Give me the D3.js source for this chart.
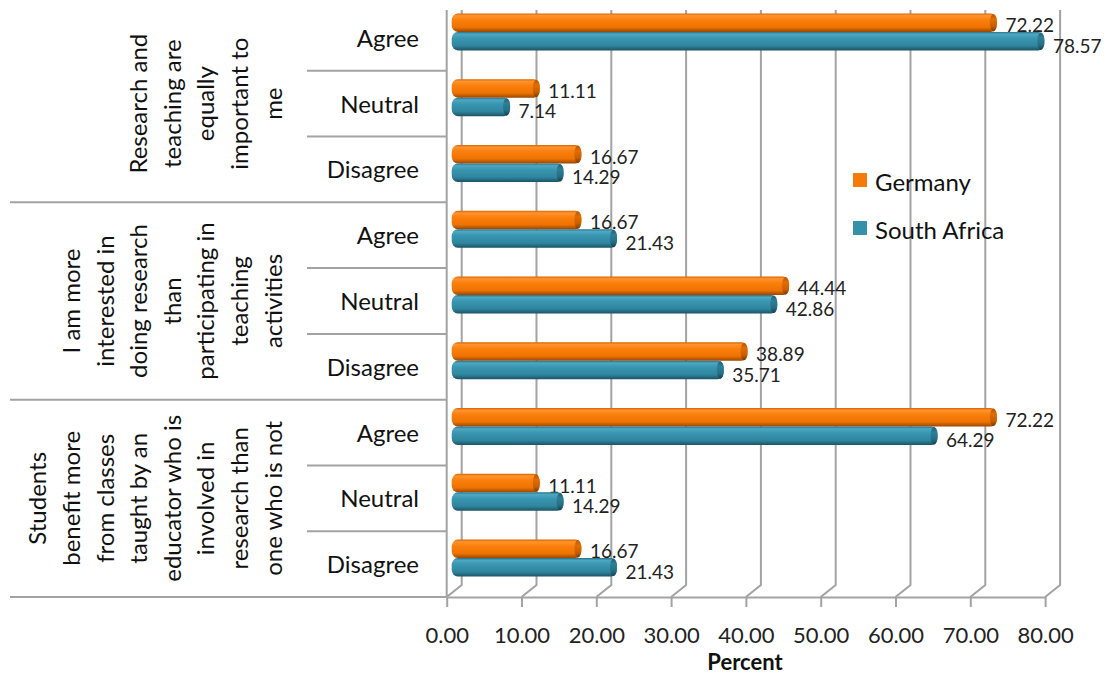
<!DOCTYPE html>
<html>
<head>
<meta charset="utf-8">
<script src="https://cdn.jsdelivr.net/npm/d3@7/dist/d3.min.js"></script>
<style>
  html, body { margin: 0; padding: 0; background: #fff; }
  svg { display: block; font-family: Lato, "Open Sans", sans-serif; }
</style>
</head>
<body>
<svg id="chart" width="1111" height="675"></svg>
<script>
// Survey statements (wrapped as they are printed on the chart)
const statementLines = [
  ["Research and", "teaching are", "equally", "important to", "me"],
  ["I am more", "interested in", "doing research", "than", "participating in", "teaching", "activities"],
  ["Students", "benefit more", "from classes", "taught by an", "educator who is", "involved in", "research than", "one who is not"]
];
const responses = ["Agree", "Neutral", "Disagree"];
const seriesNames = ["Germany", "South Africa"];
// Percent of respondents, one value per statement x response row
const germany     = [72.22, 11.11, 16.67, 16.67, 44.44, 38.89, 72.22, 11.11, 16.67];
const southAfrica = [78.57,  7.14, 14.29, 21.43, 42.86, 35.71, 64.29, 14.29, 21.43];
const tickValues = [0, 10, 20, 30, 40, 50, 60, 70, 80];

const svg = d3.select("#chart");
const colors = { "Germany": "#F57A08", "South Africa": "#3590AA" };

// Plot geometry: front floor edge and the 3-D depth offset of the back wall
const floorY = 597, topY = 5;
const depthX = 15, depthY = -12;
const x = d3.scaleLinear().domain([0, 80]).range([446.7, 1045.1]);

const rows = [];
statementLines.forEach((s, gi) => responses.forEach((r, ri) => rows.push({ g: gi, r: ri, key: gi + "-" + ri })));
const y = d3.scaleBand().domain(rows.map(d => d.key)).range([topY, floorY]);

// ---- gradients for the cylinder-like bars
const defs = svg.append("defs");
function barGradient(id, stops) {
  const g = defs.append("linearGradient").attr("id", id).attr("x1", 0).attr("y1", 0).attr("x2", 0).attr("y2", 1);
  stops.forEach(([o, c]) => g.append("stop").attr("offset", o).attr("stop-color", c));
}
barGradient("gradDE", [[0, "#D86300"], [0.12, "#FF9430"], [0.35, "#FB7F0C"], [0.75, "#EF7300"], [1, "#9A4700"]]);
barGradient("gradZA", [[0, "#2A7189"], [0.12, "#4DA8C2"], [0.35, "#3996B0"], [0.75, "#2F859E"], [1, "#1B5366"]]);
barGradient("capDE", [[0, "#B85300"], [0.3, "#E06E00"], [0.7, "#C85F00"], [1, "#7E3A00"]]);
barGradient("capZA", [[0, "#215F73"], [0.3, "#2E7F97"], [0.7, "#256F85"], [1, "#163F4D"]]);

// ---- back wall gridlines with floor diagonals
const grid = svg.append("g").attr("stroke", "#A3A3A3").attr("stroke-width", 2).attr("fill", "none");
grid.selectAll("path").data(tickValues).join("path")
  .attr("d", v => `M${x(v) + depthX},10 L${x(v) + depthX},${floorY + depthY} L${x(v)},${floorY}`);

// ---- category separators in the label area
const sep = svg.append("g").attr("stroke", "#A3A3A3").attr("stroke-width", 2);
rows.forEach((d, i) => {
  if (i === 0) return;
  const yy = y(d.key);
  const isGroup = d.r === 0;
  sep.append("line").attr("x1", isGroup ? 10 : 307).attr("x2", x(0)).attr("y1", yy).attr("y2", yy);
});
sep.append("line").attr("x1", 10).attr("x2", x(0)).attr("y1", floorY).attr("y2", floorY);
sep.append("line").attr("x1", x(0)).attr("x2", x(0)).attr("y1", 10).attr("y2", floorY);

// ---- value axis along the front floor edge
const axis = d3.axisBottom(x).tickValues(tickValues).tickFormat(d3.format(".2f")).tickSize(10).tickSizeOuter(0);
const ax = svg.append("g").attr("transform", `translate(0,${floorY})`).call(axis);
ax.select(".domain").attr("stroke", "#A3A3A3").attr("stroke-width", 2);
ax.selectAll(".tick line").attr("stroke", "#A3A3A3").attr("stroke-width", 2);
ax.selectAll(".tick text").attr("y", 46).attr("dy", 0)
  .attr("font-size", 22).attr("font-family", "Lato, sans-serif").attr("fill", "#222");

svg.append("text").attr("x", 745).attr("y", 670).attr("text-anchor", "middle")
  .attr("font-size", 22).attr("font-weight", "bold").attr("fill", "#111").text("Percent");

// ---- bars (sit half way into the depth)
const bx = depthX / 2, by = depthY / 2;
const barH = 18.5;
const seriesData = [
  { name: "Germany", values: germany, grad: "gradDE", cap: "capDE", off: -barH },
  { name: "South Africa", values: southAfrica, grad: "gradZA", cap: "capZA", off: 0 }
];
const bars = svg.append("g");
seriesData.forEach(s => {
  rows.forEach((d, i) => {
    const v = s.values[i];
    const cy = y(d.key) + y.bandwidth() / 2 + by;
    const y0 = cy + s.off;
    const x0 = x(0) + bx, x1 = x(v) + bx;
    const g = bars.append("g");
    g.append("rect").attr("x", x0 - 2.5).attr("y", y0).attr("width", x1 - x0 + 5).attr("height", barH)
      .attr("rx", 6).attr("ry", 7).attr("fill", `url(#${s.grad})`);
    g.append("ellipse").attr("cx", x1 - 1).attr("cy", y0 + barH / 2).attr("rx", 3.5).attr("ry", barH / 2 - 0.5)
      .attr("fill", `url(#${s.cap})`);
    g.append("text").attr("x", x1 + 11).attr("y", y0 + barH / 2 + (s.off < 0 ? 2 : 4))
      .attr("dominant-baseline", "central").attr("font-size", 19).attr("fill", "#222").text(d3.format(".2f")(v));
  });
});

// ---- response labels
svg.append("g").selectAll("text").data(rows).join("text")
  .attr("x", 419).attr("y", d => y(d.key) + y.bandwidth() / 2 + 9)
  .attr("text-anchor", "end").attr("font-size", 24).attr("fill", "#111")
  .text(d => responses[d.r]);

// ---- statement labels, rotated
statementLines.forEach((lines, gi) => {
  const gy = y(gi + "-0") + y.bandwidth() * 1.5;
  const n = lines.length;
  lines.forEach((t, li) => {
    const cx = 272 - (n - 1 - li) * 33.6;
    svg.append("text").attr("transform", `translate(${cx},${gy}) rotate(-90)`)
      .attr("text-anchor", "middle").attr("dominant-baseline", "central")
      .attr("font-size", 24).attr("fill", "#111").text(t);
  });
});

// ---- legend
const legend = svg.append("g").attr("transform", "translate(853,173)");
seriesNames.forEach((name, i) => {
  const lg = legend.append("g").attr("transform", `translate(0,${i * 48})`);
  lg.append("rect").attr("width", 14).attr("height", 14).attr("fill", colors[name]);
  lg.append("text").attr("x", 22).attr("y", 8).attr("dominant-baseline", "central")
    .attr("font-size", 24).attr("fill", "#111").text(name);
});
</script>
</body>
</html>
